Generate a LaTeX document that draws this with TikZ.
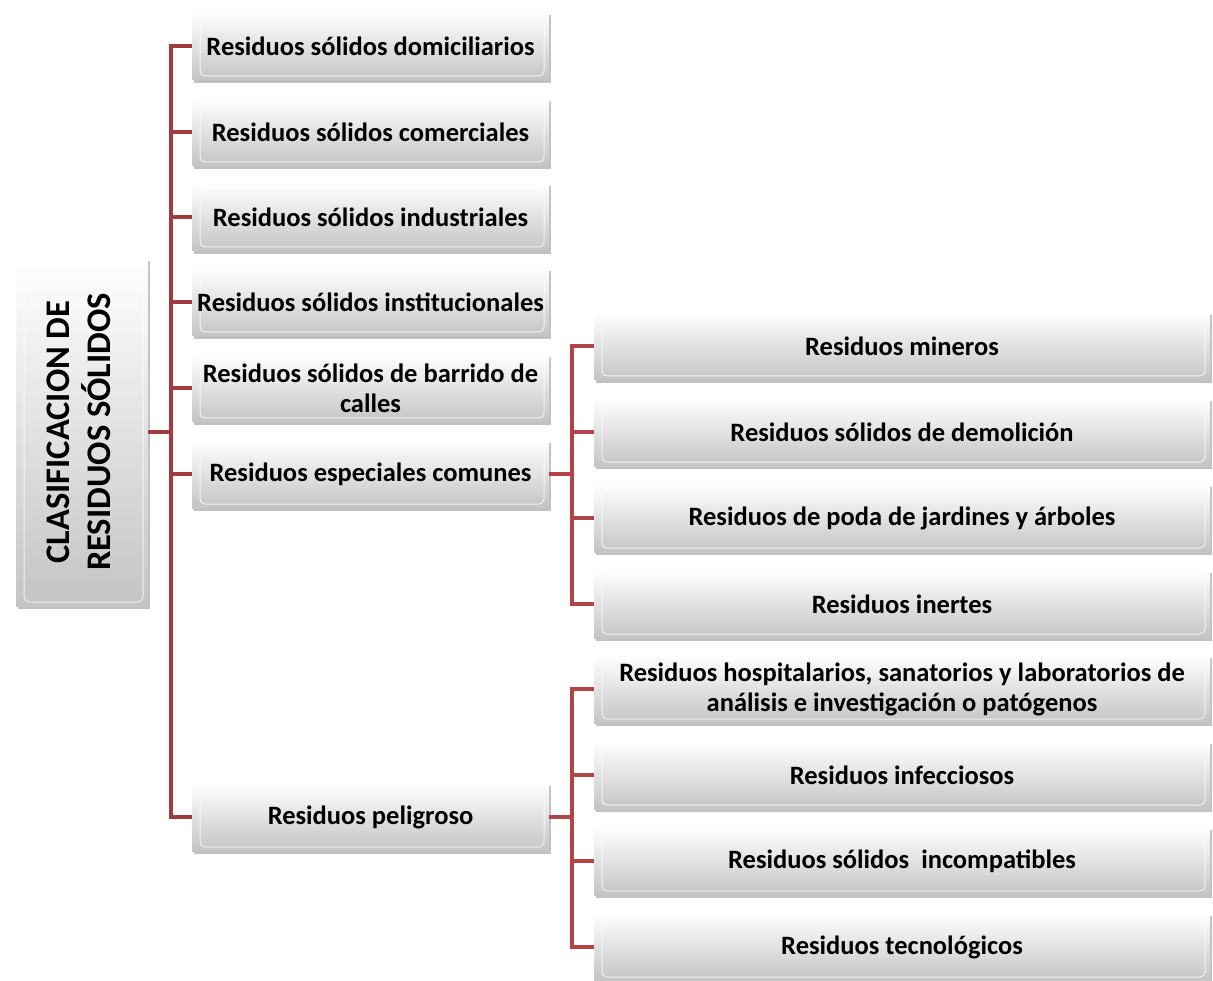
\documentclass[tikz,border=0pt]{standalone}
\usepackage{fontspec}
\setmainfont{Carlito}
\usetikzlibrary{shadows}
\definecolor{conn}{HTML}{A23B3E}
\definecolor{subconn}{HTML}{B04446}
\definecolor{boxbot}{HTML}{C4C4C4}
\begin{document}
\begin{tikzpicture}[x=1pt,y=-1pt,
  box/.style={draw=none, top color=white, bottom color=boxbot,
    drop shadow={shadow xshift=2pt, shadow yshift=-3pt, opacity=0.4, fill=black!60},
    inner sep=2pt, align=center,
    font=\fontsize{26.5}{30}\selectfont\bfseries,
    path picture={\draw[white, line width=1pt, rounded corners=5pt, opacity=0.75]
      ([xshift=8pt,yshift=-5pt]path picture bounding box.north west) rectangle
      ([xshift=-5pt,yshift=4pt]path picture bounding box.south east);}},
  lbox/.style={box, minimum width=357pt, minimum height=68pt},
  rbox/.style={box, minimum width=616pt, minimum height=68pt},
  link/.style={draw=conn, line width=4.5pt, line join=miter},
  sublink/.style={draw=subconn, line width=4pt, line join=miter}]

\useasboundingbox[fill=white] (0,0) rectangle (1213,981);

% root of the classification
\node[box, minimum width=132pt, minimum height=348pt,
      font=\fontsize{34.5}{40}\selectfont\bfseries] (root) at (82,432)
  {\rotatebox{90}{\begin{tabular}{@{}c@{}}CLASIFICACION DE\\RESIDUOS SÓLIDOS\end{tabular}}};

% first level
\node[lbox] (b1) at (370.5,46) {Residuos sólidos domiciliarios};
\node[lbox] (b2) at (370.5,132) {Residuos sólidos comerciales};
\node[lbox] (b3) at (370.5,217) {Residuos sólidos industriales};
\node[lbox] (b4) at (370.5,302) {Residuos sólidos institucionales};
\node[lbox] (b5) at (370.5,388) {Residuos sólidos de barrido de\\calles};
\node[lbox] (b6) at (370.5,474) {Residuos especiales comunes};
\node[lbox] (b7) at (370.5,817) {Residuos peligroso};

% second level: residuos especiales comunes
\node[rbox] (r1) at (902,346) {Residuos mineros};
\node[rbox] (r2) at (902,432) {Residuos sólidos de demolición};
\node[rbox] (r3) at (902,518) {Residuos de poda de jardines y árboles};
\node[rbox] (r4) at (902,604) {Residuos inertes};

% second level: residuos peligrosos
\node[rbox] (p1) at (902,689) {Residuos hospitalarios, sanatorios y laboratorios de\\análisis e investigación o patógenos};
\node[rbox] (p2) at (902,775) {Residuos infecciosos};
\node[rbox] (p3) at (902,861) {Residuos sólidos~~incompatibles};
\node[rbox] (p4) at (902,947) {Residuos tecnológicos};

% main trunk
\coordinate (t) at (171,432);
\draw[link] (root.east) -- (t);
\foreach \n in {b1,b2,b3,b4,b5,b6,b7}
  \draw[link] (t) |- (\n.west);

% branch of residuos especiales comunes
\coordinate (s1) at (572,474);
\draw[sublink] (b6.east) -- (s1);
\foreach \n in {r1,r2,r3,r4}
  \draw[sublink] (s1) |- (\n.west);

% branch of residuos peligrosos
\coordinate (s2) at (572,817);
\draw[sublink] (b7.east) -- (s2);
\foreach \n in {p1,p2,p3,p4}
  \draw[sublink] (s2) |- (\n.west);
\end{tikzpicture}
\end{document}
